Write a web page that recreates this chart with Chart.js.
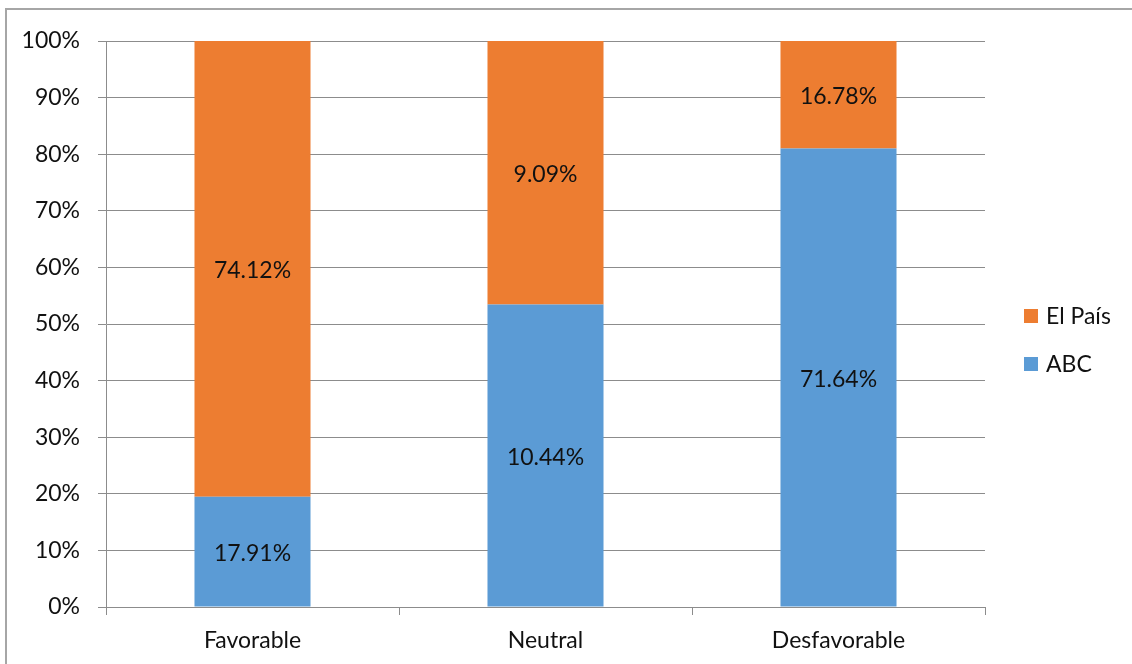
<!DOCTYPE html>
<html>
<head>
<meta charset="utf-8">
<script src="https://cdn.jsdelivr.net/npm/chart.js@4/dist/chart.umd.min.js"></script>
<style>
    html, body { margin: 0; padding: 0; background: #fff; overflow: hidden; }
    #wrap { position: relative; width: 1132px; height: 664px; }
    #frame {
        position: absolute; left: 5px; top: 8px; width: 1200px; height: 700px;
        border: 2px solid #a6a6a6; box-sizing: border-box; pointer-events: none;
    }
    canvas { position: absolute; left: 0; top: 0; }
</style>
</head>
<body>
<div id="wrap">
    <canvas id="chart" width="1132" height="664"></canvas>
    <div id="frame"></div>
</div>
<script>
// Chart data (100% stacked columns)
const categories = ['Favorable', 'Neutral', 'Desfavorable'];
const abcValues = [17.91, 10.44, 71.64];
const elPaisValues = [74.12, 9.09, 16.78];
const yTicks = [0, 10, 20, 30, 40, 50, 60, 70, 80, 90, 100];

const FONT = 'Lato, "Open Sans", sans-serif';
const FONT_SIZE = 23;
const BLUE = '#5b9bd5';
const ORANGE = '#ed7d31';

// share of each series within its column (what a 100% stacked chart plots)
function shareOf(values, others) {
    return values.map((v, i) => v / (v + others[i]) * 100);
}

// Value labels in the middle of each segment (shows the raw value)
const segmentLabels = {
    id: 'segmentLabels',
    afterDatasetsDraw(chart) {
        const ctx = chart.ctx;
        ctx.save();
        ctx.font = FONT_SIZE + 'px ' + FONT;
        ctx.fillStyle = '#111';
        ctx.textAlign = 'center';
        ctx.textBaseline = 'middle';
        chart.data.datasets.forEach((ds, di) => {
            const meta = chart.getDatasetMeta(di);
            meta.data.forEach((bar, i) => {
                const props = bar.getProps(['x', 'y', 'base'], true);
                const midY = (props.y + props.base) / 2;
                ctx.fillText(ds.rawValues[i].toFixed(2) + '%', props.x, midY + 2);
            });
        });
        ctx.restore();
    }
};

// Legend on the right, El País above ABC
const sideLegend = {
    id: 'sideLegend',
    afterDraw(chart) {
        const ctx = chart.ctx;
        const items = chart.data.datasets.slice().reverse();
        ctx.save();
        ctx.font = FONT_SIZE + 'px ' + FONT;
        ctx.textBaseline = 'middle';
        ctx.textAlign = 'left';
        items.forEach((ds, i) => {
            const cy = 316 + i * 48;
            ctx.fillStyle = ds.backgroundColor;
            ctx.fillRect(1024, cy - 7, 14, 14);
            ctx.fillStyle = '#111';
            ctx.fillText(ds.label, 1046, cy + 1);
        });
        ctx.restore();
    }
};

new Chart(document.getElementById('chart'), {
    type: 'bar',
    data: {
        labels: categories,
        datasets: [
            {
                label: 'ABC',
                data: shareOf(abcValues, elPaisValues),
                rawValues: abcValues,
                backgroundColor: BLUE,
                borderWidth: 0,
                categoryPercentage: 1,
                barPercentage: 0.396
            },
            {
                label: 'El País',
                data: shareOf(elPaisValues, abcValues),
                rawValues: elPaisValues,
                backgroundColor: ORANGE,
                borderWidth: 0,
                categoryPercentage: 1,
                barPercentage: 0.396
            }
        ]
    },
    options: {
        responsive: false,
        animation: false,
        layout: { padding: { left: 0, right: 147, top: 41, bottom: 0 } },
        plugins: {
            legend: { display: false },
            tooltip: { enabled: false }
        },
        scales: {
            x: {
                stacked: true,
                afterFit: (scale) => { scale.height = 57; },
                grid: {
                    offset: true,
                    drawOnChartArea: false,
                    tickLength: 8,
                    color: '#8c8c8c'
                },
                border: { color: '#8c8c8c', width: 1 },
                ticks: {
                    color: '#111',
                    font: { family: FONT, size: FONT_SIZE },
                    padding: 12
                }
            },
            y: {
                stacked: true,
                min: 0,
                max: 100,
                afterFit: (scale) => { scale.width = 106; },
                afterBuildTicks: (scale) => {
                    scale.ticks = yTicks.map(v => ({ value: v }));
                },
                grid: {
                    color: '#8c8c8c',
                    tickLength: 8
                },
                border: { color: '#8c8c8c', width: 1 },
                ticks: {
                    color: '#111',
                    font: { family: FONT, size: FONT_SIZE },
                    padding: 18,
                    callback: (v) => v + '%'
                }
            }
        }
    },
    plugins: [segmentLabels, sideLegend]
});
</script>
</body>
</html>
